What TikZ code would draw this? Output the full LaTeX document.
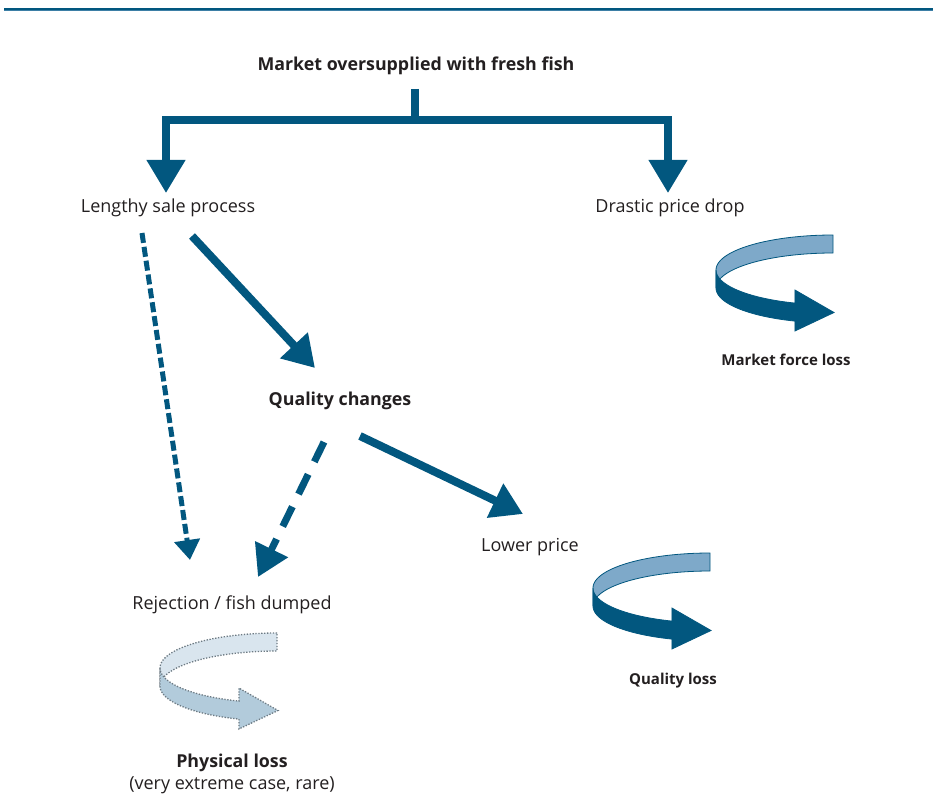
\documentclass[tikz,border=0pt]{standalone}
\usepackage{fontspec}
\setmainfont{Open Sans}
\usetikzlibrary{arrows.meta}
\definecolor{fblue}{HTML}{02577F}
\definecolor{flight}{HTML}{7EA9C9}
\definecolor{ptback}{HTML}{D9E5EE}
\definecolor{ptfront}{HTML}{B2CBDB}
\definecolor{ptline}{HTML}{6D7A83}
\definecolor{txt}{HTML}{231F20}
\definecolor{rulelight}{HTML}{3D7FA6}
\tikzset{
  lbl/.style={text=txt, inner sep=0pt, font=\fontsize{18}{21}\selectfont},
  lblb/.style={lbl, font=\fontsize{17.8}{21}\selectfont\bfseries},
  lbls/.style={lbl, font=\fontsize{15}{18}\selectfont\bfseries},
  solidarrow/.style={draw=fblue, line width=8, line join=miter,
     -{Triangle[length=31,width=36]}},
  treearrow/.style={draw=fblue, line width=7.5, line join=miter},
  dotarrow/.style={draw=fblue, line width=5, dash pattern=on 10 off 4,
     -{Triangle[length=20,width=25]}},
  dasharrow/.style={draw=fblue, line width=7, dash pattern=on 22 off 14,
     -{Triangle[length=31,width=35]}},
  ribback/.style={fill=flight, draw=fblue, line width=0.8},
  ribfront/.style={fill=fblue, draw=fblue, line width=0.8},
  physback/.style={fill=ptback, draw=ptline, line width=1.3, dash pattern=on 1.3 off 1.6},
  physfront/.style={fill=ptfront, draw=ptline, line width=1.3, dash pattern=on 1.3 off 1.6},
}
\newcommand{\ribbonarrow}[4]{%
  \begin{scope}[shift={(#1,#2)}]
    \path[#3] plot[domain=270:180, samples=60] ({117*cos(\x)}, {35+35*sin(\x)})
      -- plot[domain=180:270, samples=60] ({117*cos(\x)}, {53+35*sin(\x)}) -- cycle;
    \path[#4] plot[domain=180:109, samples=60] ({117*cos(\x)}, {35+35*sin(\x)})
      -- (-38.1,55) -- (1,77.5) -- (-38.1,96)
      -- plot[domain=109:180, samples=60] ({117*cos(\x)}, {53+35*sin(\x)}) -- cycle;
  \end{scope}}
\begin{document}
\begin{tikzpicture}[x=1pt, y=-1pt]
\useasboundingbox (0,0) rectangle (933,794);
% top rule
\fill[fblue] (4,8) rectangle (933,10.5);
\fill[rulelight] (4,10.5) rectangle (933,11.5);

% labels
\node[lblb] (title) at (416,66) {Market oversupplied with fresh fish};
\node[lbl] (lsp) at (168,208) {Lengthy sale process};
\node[lbl] (dpd) at (670,208) {Drastic price drop};
\node[lblb] (qc) at (340,401) {Quality changes};
\node[lbl] (lp) at (530,547) {Lower price};
\node[lbl] (rej) at (232,605) {Rejection / fish dumped};
\node[lbls] (mfl) at (786,360) {Market force loss};
\node[lbls] (ql) at (673,681) {Quality loss};
\node[lblb] (pl) at (232,763) {Physical loss};
\node[lbl] (plsub) at (232,785) {(very extreme case, rare)};

% tree from title
\coordinate (stem) at (415,89);
\coordinate (junc) at (415,120);
\coordinate (ltip) at (166,193);
\coordinate (rtip) at (668,193);
\draw[treearrow] (stem) -- (junc);
\draw[treearrow, {Triangle[length=33,width=37]}-{Triangle[length=33,width=37]}]
  (ltip) |- (junc) -| (rtip);

% arrows between labels
\coordinate (a1s) at (192,236);
\coordinate (a1e) at (315,368);
\draw[solidarrow] (a1s) -- (a1e);
\coordinate (a2s) at (142,233);
\coordinate (a2e) at (190,560);
\draw[dotarrow] (a2s) -- (a2e);
\coordinate (a3s) at (324,442);
\coordinate (a3e) at (258,577);
\draw[dasharrow] (a3s) -- (a3e);
\coordinate (a4s) at (360,436);
\coordinate (a4e) at (523,514);
\draw[solidarrow] (a4s) -- (a4e);

% ribbon arrows
\ribbonarrow{833}{235}{ribback}{ribfront}
\ribbonarrow{710}{553}{ribback}{ribfront}
\ribbonarrow{277}{633}{physback}{physfront}
\end{tikzpicture}
\end{document}
